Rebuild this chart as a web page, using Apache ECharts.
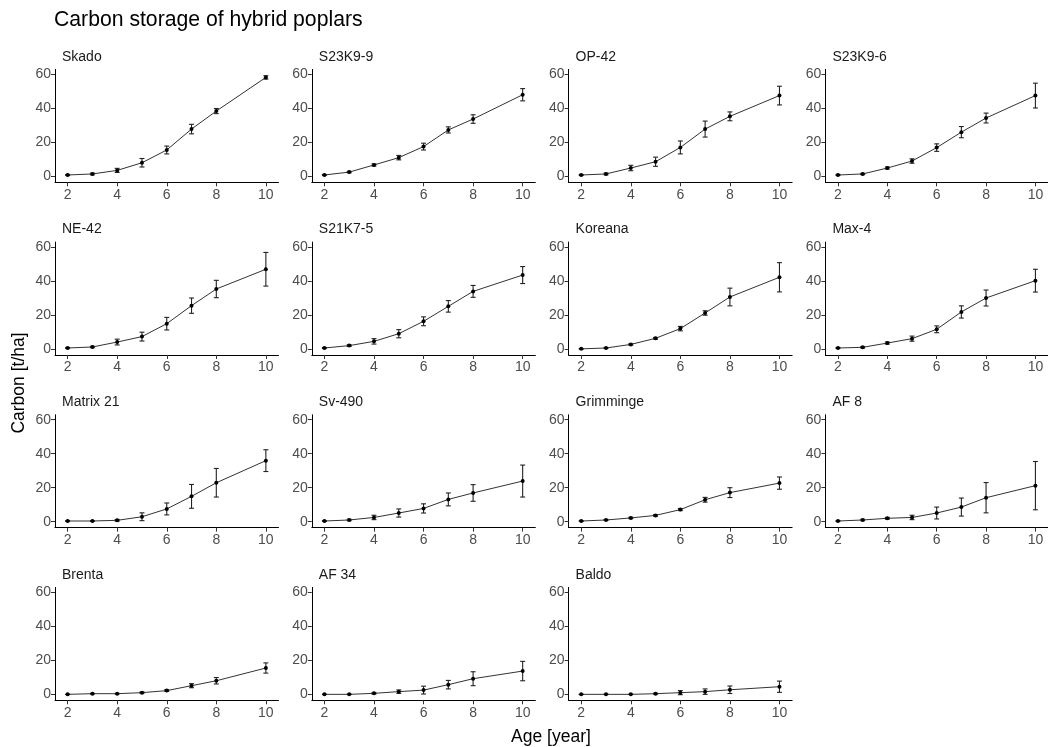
<!DOCTYPE html>
<html>
<head>
<meta charset="utf-8">
<script src="https://cdn.jsdelivr.net/npm/echarts@6/dist/echarts.min.js"></script>
<style>
html,body{margin:0;padding:0;background:#fff;}
#chart{width:1048px;height:747px;}
</style>
</head>
<body>
<div id="chart"></div>
<script>
// ---- data ----
const ages = [2, 3, 4, 5, 6, 7, 8, 10];
const xTicks = [2, 4, 6, 8, 10];
const yTicks = [0, 20, 40, 60];
const clones = ['Skado','S23K9-9','OP-42','S23K9-6','NE-42','S21K7-5','Koreana','Max-4',
                'Matrix 21','Sv-490','Grimminge','AF 8','Brenta','AF 34','Baldo'];

const skadoMean    = [0.8, 1.4, 3.5, 8.0, 15.5, 27.8, 38.4, 58.2];
const skadoErr     = [0.3, 0.5, 1.2, 2.5, 2.3, 2.8, 1.5, 1.0];
const s23k99Mean   = [0.8, 2.5, 6.7, 11.0, 17.5, 27.3, 33.7, 48.0];
const s23k99Err    = [0.3, 0.4, 0.6, 1.3, 2.0, 1.8, 2.5, 3.6];
const op42Mean     = [0.8, 1.4, 4.9, 8.6, 17.0, 27.8, 35.3, 47.5];
const op42Err      = [0.3, 0.5, 1.6, 2.7, 3.8, 4.7, 2.6, 5.5];
const s23k96Mean   = [0.8, 1.4, 4.9, 9.0, 16.9, 26.0, 34.3, 47.5];
const s23k96Err    = [0.3, 0.4, 0.6, 1.3, 2.2, 3.3, 2.9, 7.3];
const ne42Mean     = [0.6, 1.2, 4.1, 7.3, 14.9, 25.5, 35.3, 46.9];
const ne42Err      = [0.3, 0.4, 1.7, 2.6, 3.7, 4.5, 5.1, 9.9];
const s21k75Mean   = [0.6, 2.0, 4.5, 9.0, 16.3, 25.1, 33.9, 43.5];
const s21k75Err    = [0.3, 0.5, 1.6, 2.4, 2.6, 3.4, 3.5, 5.0];
const koreanaMean  = [0.1, 0.6, 2.7, 6.3, 12.0, 21.2, 30.6, 42.2];
const koreanaErr   = [0.2, 0.3, 0.4, 0.5, 1.3, 1.3, 5.2, 8.6];
const max4Mean     = [0.6, 1.0, 3.5, 6.1, 11.6, 21.8, 30.0, 40.2];
const max4Err      = [0.3, 0.4, 0.6, 1.5, 2.0, 3.6, 4.7, 6.7];
const matrix21Mean = [0.4, 0.4, 0.8, 2.9, 7.5, 14.9, 22.9, 35.9];
const matrix21Err  = [0.2, 0.2, 0.5, 2.3, 3.5, 7.0, 8.4, 6.4];
const sv490Mean    = [0.4, 1.0, 2.5, 5.1, 7.8, 13.1, 16.9, 23.9];
const sv490Err     = [0.2, 0.4, 1.3, 2.4, 2.7, 3.8, 4.9, 9.4];
const grimmingeMean= [0.4, 1.0, 2.2, 3.7, 7.1, 12.9, 17.1, 22.7];
const grimmingeErr = [0.2, 0.3, 0.4, 0.5, 0.6, 1.4, 2.9, 3.6];
const af8Mean      = [0.4, 1.0, 2.0, 2.5, 5.1, 8.6, 14.1, 21.2];
const af8Err       = [0.2, 0.4, 0.5, 1.3, 3.5, 5.3, 8.9, 14.2];
const brentaMean   = [0.0, 0.4, 0.4, 1.0, 2.2, 5.1, 8.0, 15.5];
const brentaErr    = [0.1, 0.2, 0.2, 0.4, 0.5, 1.2, 1.9, 3.0];
const af34Mean     = [0.0, 0.0, 0.6, 1.6, 2.5, 5.7, 9.2, 13.7];
const af34Err      = [0.1, 0.1, 0.4, 1.0, 2.3, 2.5, 4.1, 5.7];
const baldoMean    = [0.0, 0.0, 0.0, 0.4, 1.0, 1.6, 2.7, 4.5];
const baldoErr     = [0.1, 0.1, 0.1, 0.3, 1.2, 1.6, 2.2, 3.3];

const meansList = [skadoMean, s23k99Mean, op42Mean, s23k96Mean, ne42Mean, s21k75Mean, koreanaMean, max4Mean,
                   matrix21Mean, sv490Mean, grimmingeMean, af8Mean, brentaMean, af34Mean, baldoMean];
const errsList  = [skadoErr, s23k99Err, op42Err, s23k96Err, ne42Err, s21k75Err, koreanaErr, max4Err,
                   matrix21Err, sv490Err, grimmingeErr, af8Err, brentaErr, af34Err, baldoErr];

// ---- layout ----
const FONT = 'Liberation Sans, Arial, sans-serif';
const colLeft0 = 55, colStep = 256.8, panelW = 223.5;
const rowTop0 = 69.4, rowStep = 172.67, panelH = 112.9;
const capHalf = 0.1;

const chart = echarts.init(document.getElementById('chart'), null, {renderer: 'canvas'});

const grids = [], xAxes = [], yAxes = [], series = [], graphics = [];

clones.forEach((name, i) => {
  const col = i % 4, row = Math.floor(i / 4);
  const left = colLeft0 + col * colStep;
  const top = rowTop0 + row * rowStep;
  grids.push({left: left, top: top, width: panelW, height: panelH});
  xAxes.push({
    gridIndex: i, type: 'value', min: 1.49, max: 10.51,
    axisLine: {show: true, onZero: false, lineStyle: {color: '#000', width: 1}},
    axisTick: {show: true, length: 4, lineStyle: {color: '#333', width: 1}, customValues: xTicks},
    axisLabel: {color: '#4d4d4d', fontSize: 14, fontFamily: FONT, margin: 5.5, customValues: xTicks},
    splitLine: {show: false}
  });
  yAxes.push({
    gridIndex: i, type: 'value', min: -3.5, max: 62.9,
    axisLine: {show: true, onZero: false, lineStyle: {color: '#000', width: 1}},
    axisTick: {show: true, length: 4, lineStyle: {color: '#333', width: 1}, customValues: yTicks},
    axisLabel: {color: '#4d4d4d', fontSize: 14, fontFamily: FONT, margin: 4, customValues: yTicks},
    splitLine: {show: false}
  });
  const m = meansList[i], e = errsList[i];
  series.push({
    type: 'custom', xAxisIndex: i, yAxisIndex: i,
    data: ages.map((a, k) => [a, m[k] - e[k], m[k] + e[k]]),
    renderItem: function (params, api) {
      const x = api.value(0), lo = api.value(1), hi = api.value(2);
      const pLo = api.coord([x, lo]), pHi = api.coord([x, hi]);
      const pL = api.coord([x - capHalf, lo]), pR = api.coord([x + capHalf, lo]);
      const st = {stroke: '#222', lineWidth: 1.1, fill: null};
      return {
        type: 'group',
        children: [
          {type: 'line', shape: {x1: pLo[0], y1: pLo[1], x2: pHi[0], y2: pHi[1]}, style: st},
          {type: 'line', shape: {x1: pL[0], y1: pLo[1], x2: pR[0], y2: pLo[1]}, style: st},
          {type: 'line', shape: {x1: pL[0], y1: pHi[1], x2: pR[0], y2: pHi[1]}, style: st}
        ]
      };
    },
    silent: true, animation: false, z: 2
  });
  series.push({
    type: 'line', xAxisIndex: i, yAxisIndex: i,
    data: ages.map((a, k) => [a, m[k]]),
    symbol: 'circle', symbolSize: 4, showSymbol: true,
    itemStyle: {color: '#000', borderWidth: 0},
    lineStyle: {color: '#333', width: 1},
    silent: true, animation: false, z: 3
  });
  graphics.push({
    type: 'text', left: left + 7, top: top - 19.5,
    style: {text: name, font: '14px ' + FONT, fill: '#1a1a1a'}
  });
});

graphics.push({
  type: 'text', left: 54, top: 10,
  style: {text: 'Carbon storage of hybrid poplars', font: '21.2px ' + FONT, fill: '#000'}
});
graphics.push({
  type: 'text', x: 551, y: 737,
  style: {text: 'Age [year]', font: '17.5px ' + FONT, fill: '#000', textAlign: 'center', textVerticalAlign: 'middle'}
});
graphics.push({
  type: 'text', x: 19, y: 383, rotation: Math.PI / 2,
  style: {text: 'Carbon [t/ha]', font: '17.5px ' + FONT, fill: '#000', textAlign: 'center', textVerticalAlign: 'middle'}
});

chart.setOption({
  animation: false,
  backgroundColor: '#fff',
  grid: grids, xAxis: xAxes, yAxis: yAxes, series: series,
  graphic: graphics
});
</script>
</body>
</html>
